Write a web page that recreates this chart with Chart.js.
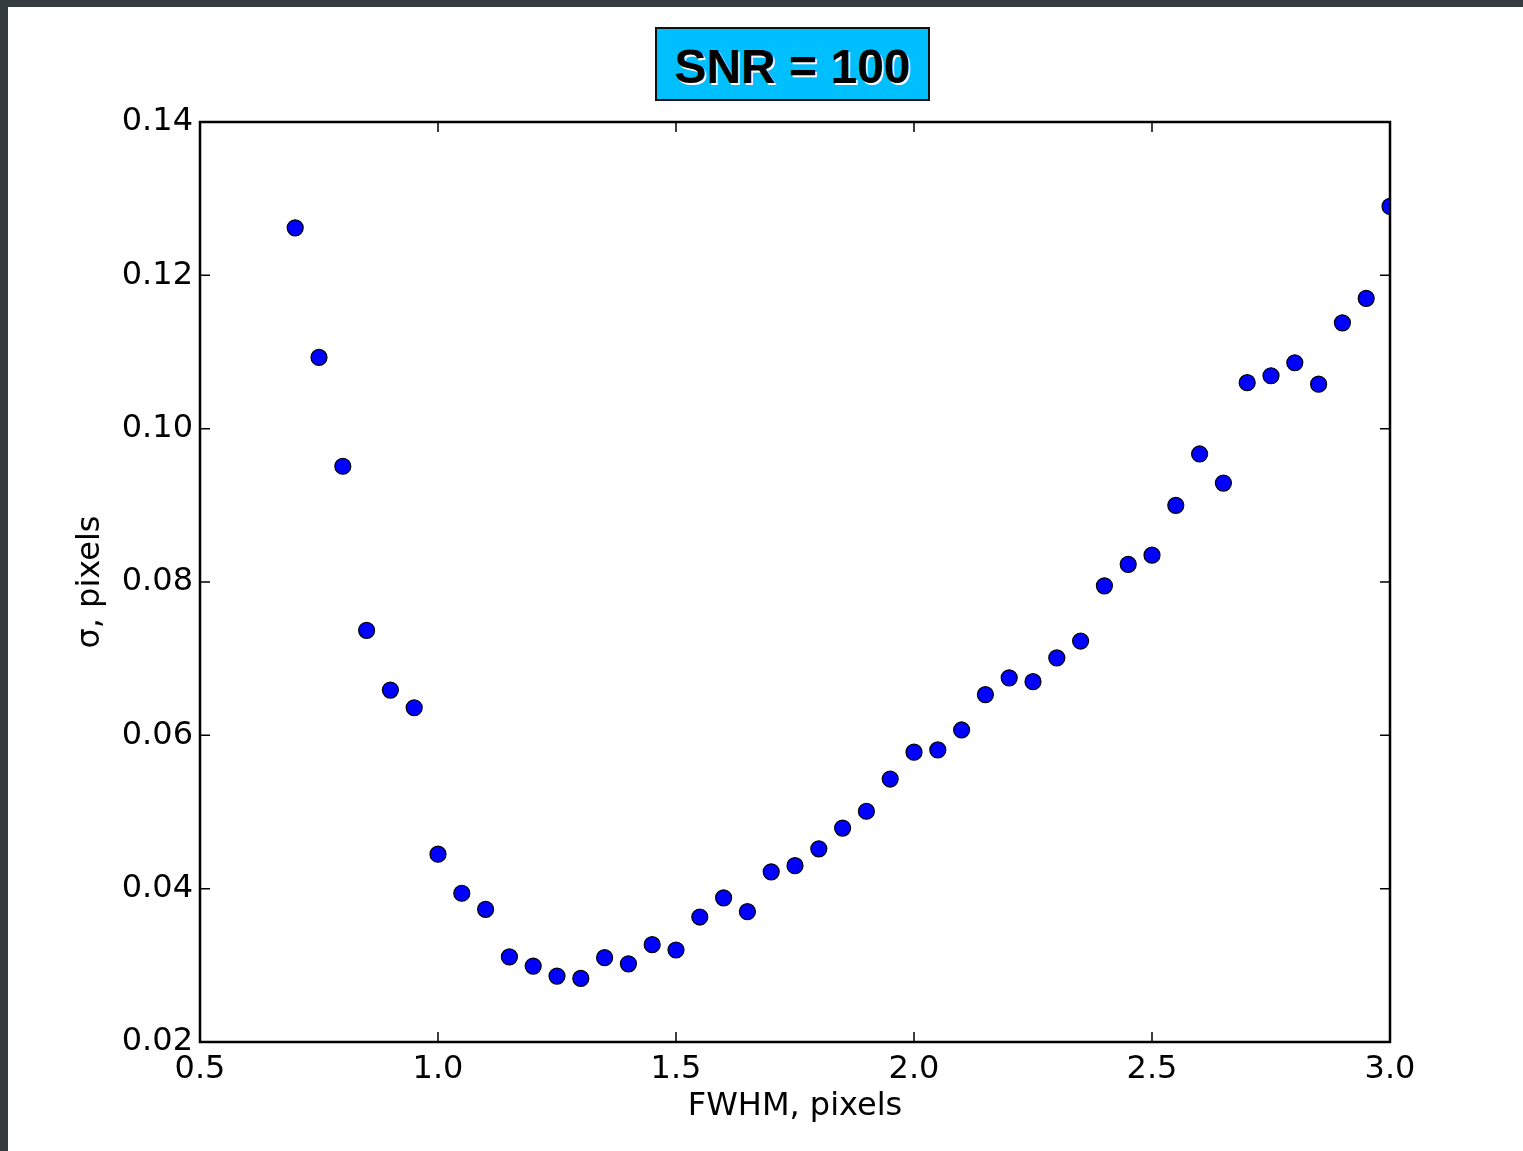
<!DOCTYPE html>
<html>
<head>
<meta charset="utf-8">
<script src="https://cdn.jsdelivr.net/npm/chart.js@4.4.0/dist/chart.umd.min.js"></script>
<style>
  html, body { margin: 0; padding: 0; background: #fff; }
  #wrap { position: relative; width: 1523px; height: 1151px; overflow: hidden; }
  #topbar { position: absolute; left: 0; top: 0; width: 1523px; height: 7px; background: #343c40; }
  #leftbar { position: absolute; left: 0; top: 0; width: 8px; height: 1151px; background: #343c40; }
  #snr {
    position: absolute; left: 655px; top: 27px; width: 271px; height: 70px;
    background: #00bfff; border: 2px solid #111;
    font-family: "Liberation Sans", Arial, sans-serif; font-weight: bold; font-size: 48px;
    line-height: 76px; text-align: center; color: #000;
    text-shadow: 1.5px 1.5px 0 #fff;
  }
  canvas { position: absolute; left: 0; top: 0; }
</style>
</head>
<body>
<div id="wrap">
  <canvas id="myChart" width="1523" height="1151"></canvas>
  <div id="topbar"></div>
  <div id="leftbar"></div>
  <div id="snr">SNR = 100</div>
</div>
<script>
// FWHM values (pixels)
var fwhm = [
  0.70, 0.75, 0.80, 0.85, 0.90, 0.95, 1.00, 1.05, 1.10, 1.15,
  1.20, 1.25, 1.30, 1.35, 1.40, 1.45, 1.50, 1.55, 1.60, 1.65,
  1.70, 1.75, 1.80, 1.85, 1.90, 1.95, 2.00, 2.05, 2.10, 2.15,
  2.20, 2.25, 2.30, 2.35, 2.40, 2.45, 2.50, 2.55, 2.60, 2.65,
  2.70, 2.75, 2.80, 2.85, 2.90, 2.95, 3.00
];
// sigma values (pixels)
var sigma = [
  0.1262, 0.1093, 0.0951, 0.0737, 0.0659, 0.0636, 0.0445, 0.0394, 0.0373, 0.0311,
  0.0299, 0.0286, 0.0283, 0.0310, 0.0302, 0.0327, 0.0320, 0.0363, 0.0388, 0.0370,
  0.0422, 0.0430, 0.0452, 0.0479, 0.0501, 0.0543, 0.0578, 0.0581, 0.0607, 0.0653,
  0.0675, 0.0670, 0.0701, 0.0723, 0.0795, 0.0823, 0.0835, 0.0900, 0.0967, 0.0929,
  0.1060, 0.1069, 0.1086, 0.1058, 0.1138, 0.1170, 0.1290
];
var xTicks = [0.5, 1.0, 1.5, 2.0, 2.5, 3.0];
var yTicks = [0.02, 0.04, 0.06, 0.08, 0.10, 0.12, 0.14];

var points = fwhm.map(function(x, i) { return { x: x, y: sigma[i] }; });

// frame + inward ticks on all four sides, matplotlib style
var frameTicks = {
  id: "frameTicks",
  afterDatasetsDraw: function(chart) {
    var c = chart.ctx, a = chart.chartArea;
    var xs = chart.scales.x, ys = chart.scales.y;
    c.save();
    c.strokeStyle = "#000";
    c.lineWidth = 1.5;
    c.beginPath();
    xTicks.forEach(function(v) {
      var px = xs.getPixelForValue(v);
      c.moveTo(px, a.bottom); c.lineTo(px, a.bottom - 10);
      c.moveTo(px, a.top); c.lineTo(px, a.top + 10);
    });
    yTicks.forEach(function(v) {
      var py = ys.getPixelForValue(v);
      c.moveTo(a.left, py); c.lineTo(a.left + 10, py);
      c.moveTo(a.right, py); c.lineTo(a.right - 10, py);
    });
    c.stroke();
    c.lineWidth = 2.5;
    c.strokeRect(a.left, a.top, a.right - a.left, a.bottom - a.top);
    c.restore();
  }
};

var ctx = document.getElementById("myChart").getContext("2d");
new Chart(ctx, {
  type: "scatter",
  data: {
    datasets: [
      {
        label: "sigma",
        data: points,
        backgroundColor: "#0000ff",
        borderColor: "#000",
        borderWidth: 1.2,
        pointRadius: 8,
        pointHoverRadius: 8,
        clip: 0
      }
    ]
  },
  plugins: [frameTicks],
  options: {
    responsive: false,
    animation: false,
    layout: { padding: { left: 71, top: 122, right: 133, bottom: 25 } },
    plugins: {
      legend: { display: false },
      tooltip: { enabled: false }
    },
    scales: {
      x: {
        type: "linear",
        min: 0.5,
        max: 3.0,
        afterBuildTicks: function(s) { s.ticks = xTicks.map(function(v) { return { value: v }; }); },
        afterFit: function(s) { s.height = 84; },
        grid: { display: false, drawTicks: false },
        border: { display: false },
        ticks: {
          padding: 8,
          color: "#000",
          font: { family: "DejaVu Sans", size: 32 },
          maxRotation: 0,
          callback: function(v) { return v.toFixed(1); }
        },
        title: {
          display: true,
          text: "FWHM, pixels",
          color: "#000",
          font: { family: "DejaVu Sans", size: 32 },
          padding: { top: 0, bottom: 0 }
        }
      },
      y: {
        type: "linear",
        min: 0.02,
        max: 0.14,
        afterBuildTicks: function(s) { s.ticks = yTicks.map(function(v) { return { value: v }; }); },
        afterFit: function(s) { s.width = 129; },
        grid: { display: false, drawTicks: false },
        border: { display: false },
        ticks: {
          padding: 7,
          color: "#000",
          font: { family: "DejaVu Sans", size: 32 },
          callback: function(v) { return v.toFixed(2); }
        },
        title: {
          display: true,
          text: "σ, pixels",
          color: "#000",
          font: { family: "DejaVu Sans", size: 32 },
          padding: { top: 0, bottom: 0 }
        }
      }
    }
  }
});
</script>
</body>
</html>
